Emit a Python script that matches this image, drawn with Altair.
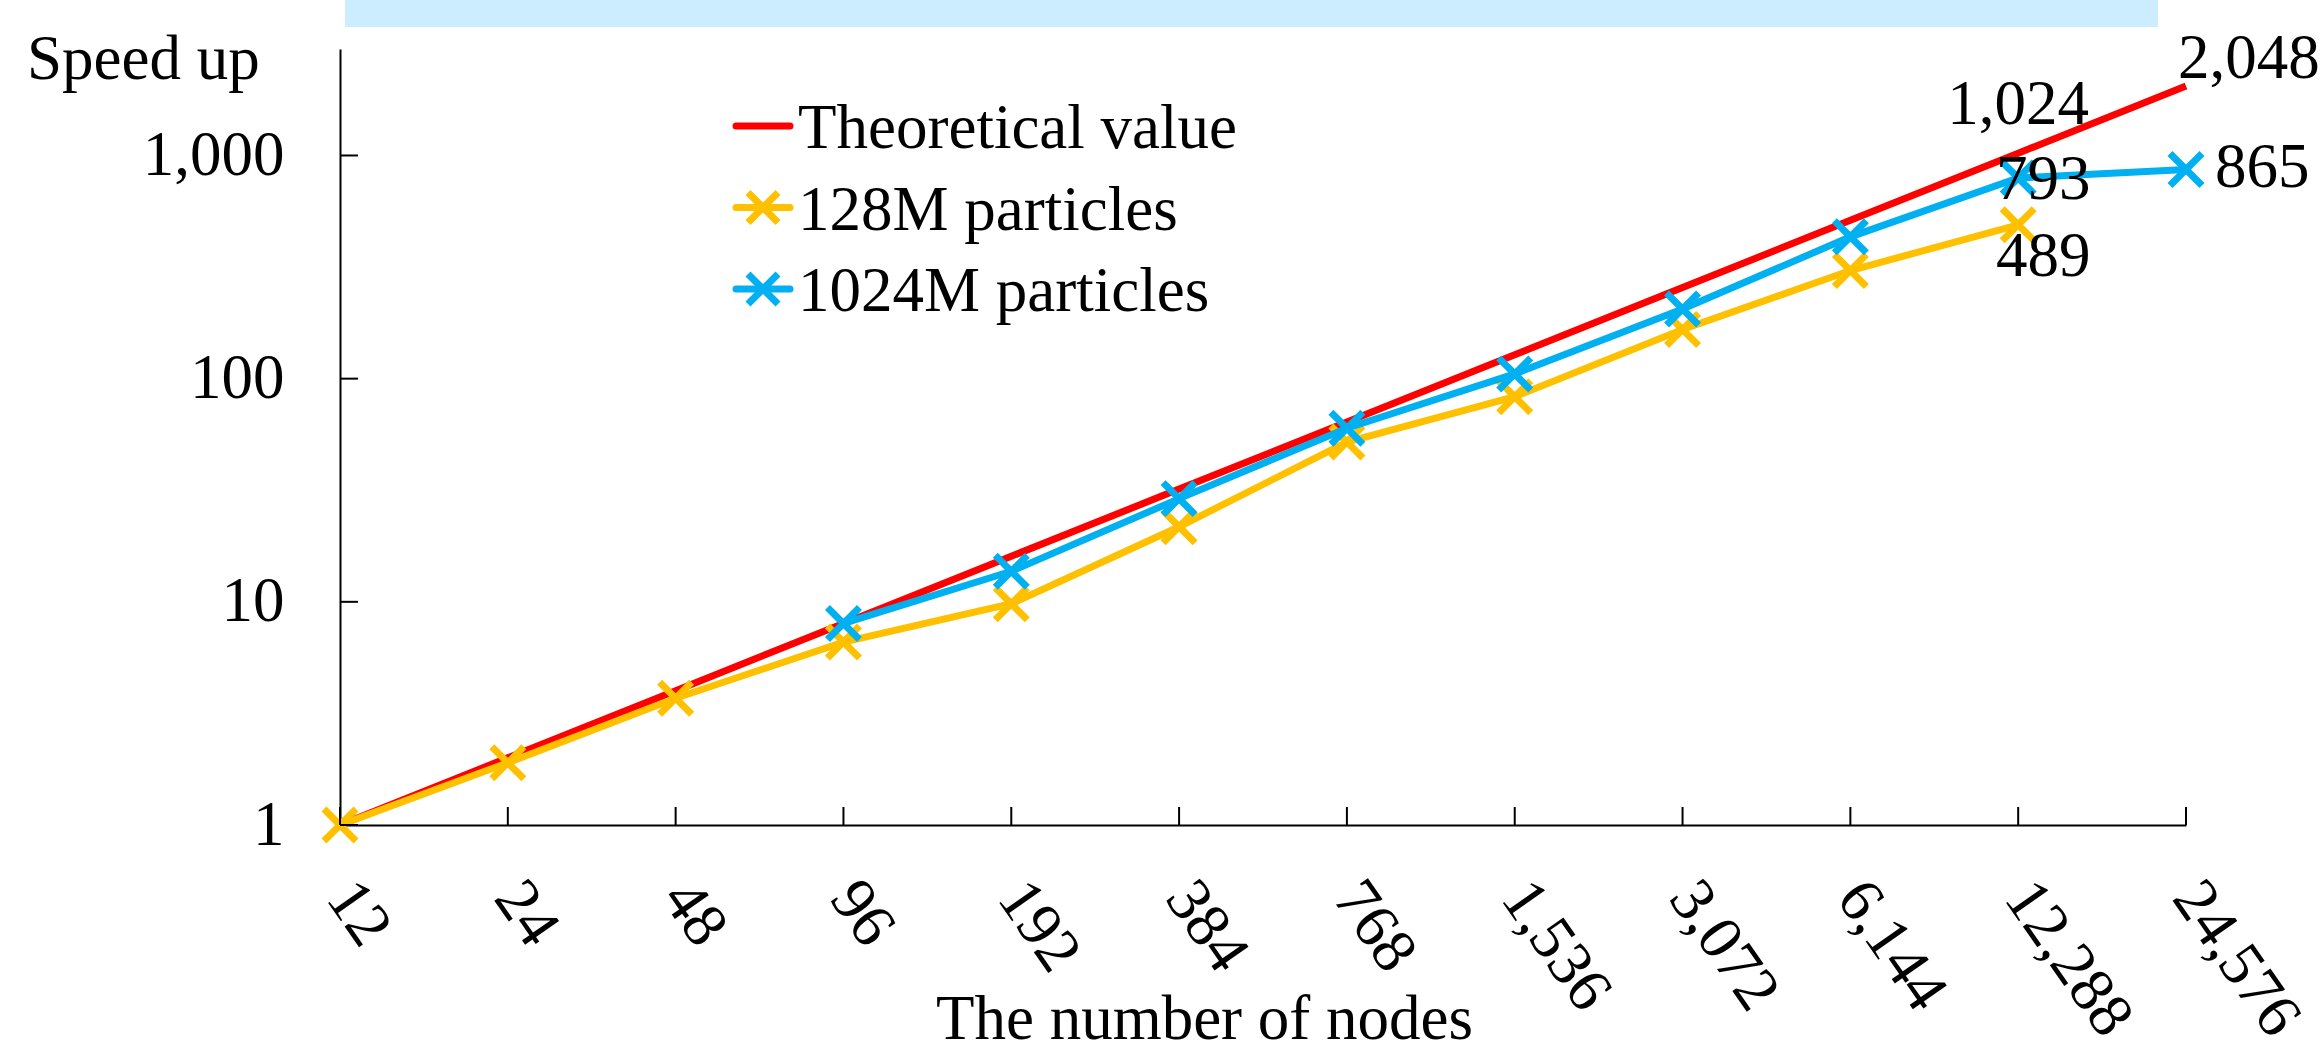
import altair as alt
import pandas as pd

# ---------------- data ----------------
nodes = [12, 24, 48, 96, 192, 384, 768, 1536, 3072, 6144, 12288, 24576]
theoretical = [1, 2, 4, 8, 16, 32, 64, 128, 256, 512, 1024, 2048]
m128 = [1, 1.9, 3.7, 6.6, 9.8, 21.7, 52, 83, 166, 305, 489, None]
m1024 = [None, None, None, 8.0, 13.7, 29, 60, 105, 205, 432, 793, 865]
series_names = ["Theoretical value", "128M particles", "1024M particles"]
series_colors = ["#FF0000", "#FFC000", "#00B0F0"]
y_ticks = [1, 10, 100, 1000]

rows = []
for name, vals in zip(series_names, [theoretical, m128, m1024]):
    for n, v in zip(nodes, vals):
        if v is not None:
            rows.append({"series": name, "nodes": n, "value": v})
df = pd.DataFrame(rows)

# ---------------- style ----------------
FONT = "Liberation Serif"
FS = 63
W, H = 1846, 776
X_SHAPE = "M-1,-1L1,1M-1,1L1,-1"

x_enc = alt.X("nodes:O",
              scale=alt.Scale(type="point", padding=0, domain=nodes),
              axis=alt.Axis(title="The number of nodes", labelExpr="format(datum.value, ',')",
                            labelAngle=55, labelAlign="left", labelBaseline="middle",
                            labelPadding=62, labelFont=FONT, labelFontSize=FS, labelColor="black",
                            ticks=False, tickSize=0, grid=False,
                            domainColor="black", domainWidth=2,
                            titleFont=FONT, titleFontSize=FS, titleFontWeight="normal",
                            titleColor="black", titleX=864, titleY=213,
                            titleAlign="center", titleBaseline="alphabetic"))
y_enc = alt.Y("value:Q",
              scale=alt.Scale(type="log", domain=[1, 3000], nice=False),
              axis=alt.Axis(title=None, values=y_ticks, format=",",
                            labelFont=FONT, labelFontSize=FS, labelColor="black",
                            labelPadding=56, ticks=False, tickSize=0, grid=False,
                            domainColor="black", domainWidth=2))

base = alt.Chart(df)
layers = []

# banner at top
layers.append(alt.Chart(pd.DataFrame({"a": [0]})).mark_rect(color="#CCECFF").encode(
    x=alt.value(5), x2=alt.value(1818), y=alt.value(-49), y2=alt.value(-22)))

# lines and markers (series order: theoretical, 128M, 1024M)
for i, (name, col) in enumerate(zip(series_names, series_colors)):
    sub = base.transform_filter(alt.datum.series == name)
    if i == 0:
        layers.append(sub.mark_line(color=col, strokeWidth=7).encode(x=x_enc, y=y_enc))
    else:
        layers.append(sub.mark_line(color=col, strokeWidth=7).encode(x="nodes:O", y="value:Q"))
        layers.append(sub.mark_point(shape=X_SHAPE, size=1024, filled=False, color=col,
                                     strokeWidth=7, opacity=1).encode(x="nodes:O", y="value:Q"))

# inward ticks
ytick_df = pd.DataFrame({"value": y_ticks})
layers.append(alt.Chart(ytick_df).mark_rule(color="black", strokeWidth=2).encode(
    y="value:Q", x=alt.value(0), x2=alt.value(18)))
xtick_df = pd.DataFrame({"nodes": nodes})
layers.append(alt.Chart(xtick_df).mark_rule(color="black", strokeWidth=2).encode(
    x="nodes:O", y=alt.value(H), y2=alt.value(H - 18)))

# data labels
label_specs = [
    ("Theoretical value", 24576, "left", -8, -8),
    ("Theoretical value", 12288, "center", 0, -29),
    ("1024M particles", 12288, "center", 25, 21),
    ("128M particles", 12288, "center", 25, 51),
    ("1024M particles", 24576, "left", 29, 17),
]
for name, n, align, dx, dy in label_specs:
    layers.append(base.transform_filter(
        (alt.datum.series == name) & (alt.datum.nodes == n)
    ).mark_text(font=FONT, fontSize=FS, color="black", align=align, baseline="alphabetic",
                dx=dx, dy=dy).encode(x="nodes:O", y="value:Q",
                                     text=alt.Text("value:Q", format=",")))

# legend
leg_df = pd.DataFrame({"series": series_names})
for i, (name, col) in enumerate(zip(series_names, series_colors)):
    ly = 77 + i * 81.5
    sub = alt.Chart(leg_df).transform_filter(alt.datum.series == name)
    layers.append(sub.mark_rule(color=col, strokeWidth=7, strokeCap="round").encode(
        x=alt.value(396), x2=alt.value(450), y=alt.value(ly)))
    if i > 0:
        layers.append(sub.mark_point(shape=X_SHAPE, size=900, filled=False, color=col,
                                     strokeWidth=7, opacity=1).encode(
            x=alt.value(423), y=alt.value(ly)))
    layers.append(sub.mark_text(font=FONT, fontSize=FS, color="black", align="left",
                                baseline="middle").encode(
        x=alt.value(458), y=alt.value(ly + 3), text="series:N"))

# y axis title "Speed up"
layers.append(alt.Chart(pd.DataFrame({"t": ["Speed up"]})).mark_text(
    font=FONT, fontSize=FS, color="black", align="left", baseline="alphabetic").encode(
    x=alt.value(-313), y=alt.value(30), text="t:N"))

chart = alt.layer(*layers).properties(
    width=W, height=H,
    autosize=alt.AutoSizeParams(type="none"),
    padding={"left": 340, "top": 49, "right": 2321 - 340 - W, "bottom": 1052 - 49 - H},
    background="white",
).configure_view(stroke=None)

chart.save("out.html", embed_options={"renderer": "svg", "actions": False})
